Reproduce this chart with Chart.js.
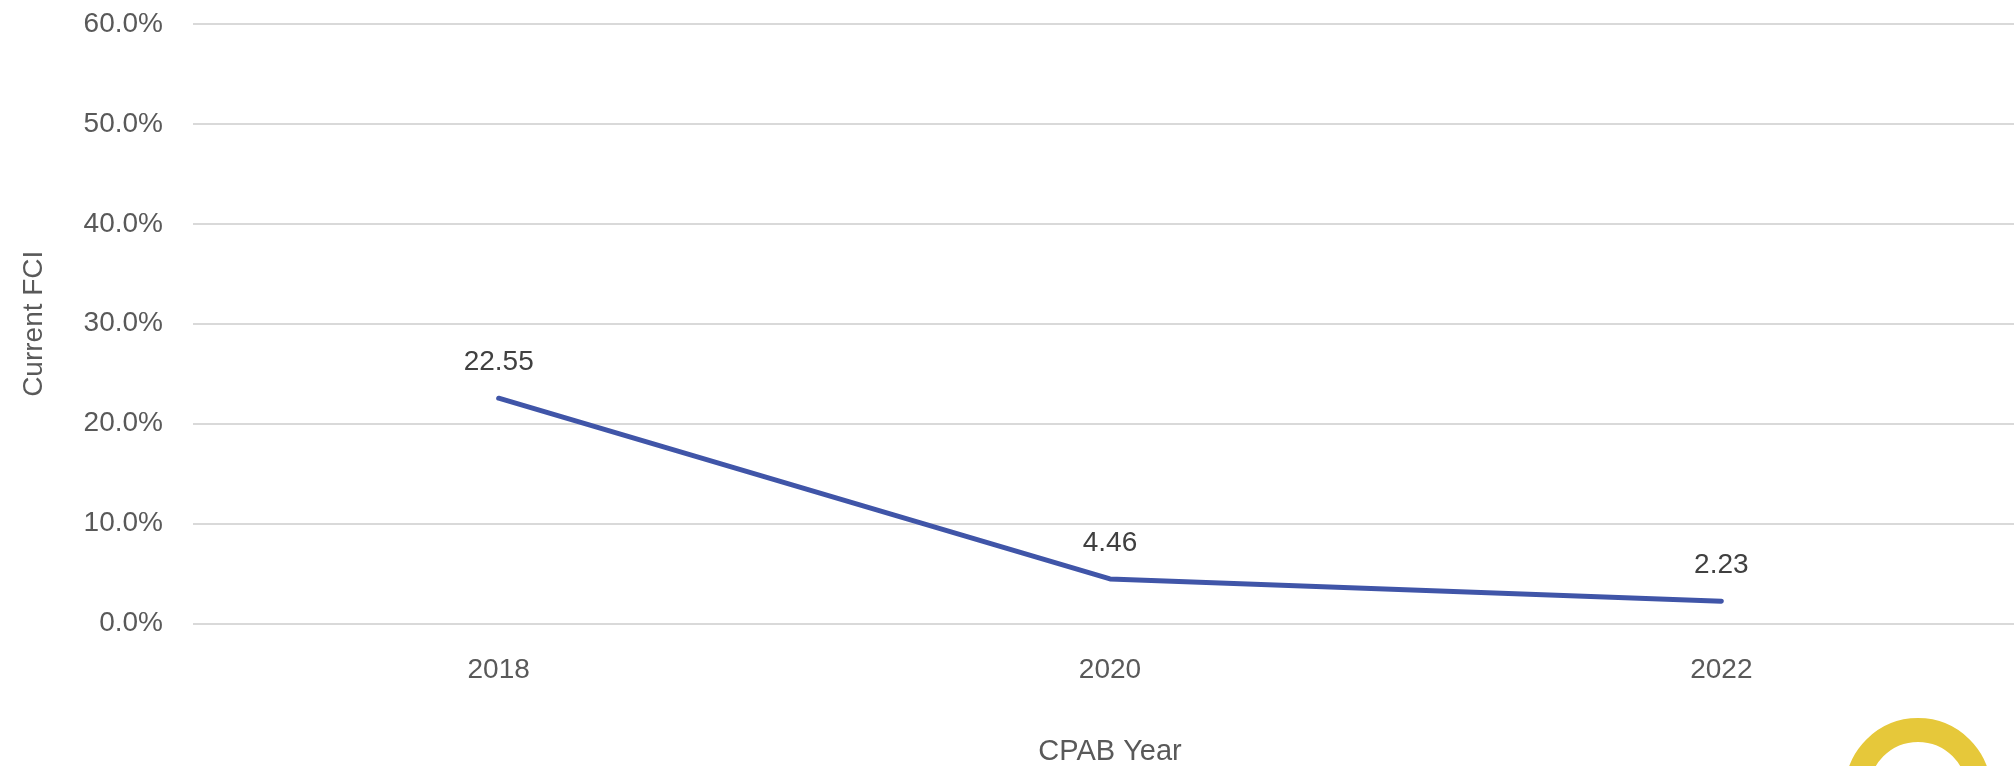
<!DOCTYPE html>
<html lang="en">
<head>
  <meta charset="UTF-8">
  <title>Current FCI by CPAB Year</title>
  <script src="https://cdn.jsdelivr.net/npm/chart.js"></script>
  <style>
    body {
      margin: 0;
      background: #ffffff;
      overflow: hidden;
      width: 2014px;
      height: 766px;
      position: relative;
    }
    #wrap {
      position: absolute;
      left: 0;
      top: 0;
      width: 2027px;
      height: 766px;
    }
    .badge {
      position: absolute;
      left: 1845px;
      top: 718px;
      width: 146px;
      height: 146px;
      box-sizing: border-box;
      border: 24px solid #E6C83A;
      border-radius: 50%;
    }
  </style>
</head>
<body>
  <div id="wrap"><canvas id="fciChart"></canvas></div>
  <div class="badge"></div>

  <script>
    const years = ['2018', '2020', '2022'];
    const fciValues = [22.55, 4.46, 2.23];
    const yTicks = [0, 10, 20, 30, 40, 50, 60];

    const FONT = "'Liberation Sans', Arial, sans-serif";

    // simple value labels above each point
    const pointLabels = {
      id: 'pointLabels',
      afterDatasetsDraw(chart) {
        const ctx = chart.ctx;
        const meta = chart.getDatasetMeta(0);
        ctx.save();
        ctx.font = '28px ' + FONT;
        ctx.fillStyle = '#404040';
        ctx.textAlign = 'center';
        ctx.textBaseline = 'middle';
        meta.data.forEach((pt, i) => {
          ctx.fillText(fciValues[i].toFixed(2), pt.x, pt.y - 36);
        });
        ctx.restore();
      }
    };

    new Chart(document.getElementById('fciChart'), {
      type: 'line',
      data: {
        labels: years,
        datasets: [{
          data: fciValues,
          borderColor: '#4055A8',
          borderWidth: 5,
          borderCapStyle: 'round',
          borderJoinStyle: 'round',
          pointRadius: 0,
          fill: false,
          tension: 0
        }]
      },
      options: {
        responsive: true,
        maintainAspectRatio: false,
        animation: false,
        layout: { padding: { top: 24, left: 0, right: 0, bottom: 0 } },
        plugins: {
          legend: { display: false },
          tooltip: { enabled: false }
        },
        scales: {
          x: {
            offset: true,
            grid: { display: false, drawTicks: false },
            border: { display: false },
            ticks: {
              color: '#595959',
              font: { family: FONT, size: 28 },
              padding: 30
            },
            title: {
              display: true,
              text: 'CPAB Year',
              color: '#595959',
              font: { family: FONT, size: 29, lineHeight: 1 },
              padding: { top: 0, bottom: 0 }
            },
            afterFit(scale) {
              scale.height = 766 - 24 - 599.5;
              scale.paddingLeft = 0;
              scale.paddingRight = 0;
            }
          },
          y: {
            min: 0,
            max: 60,
            afterBuildTicks(scale) { scale.ticks = yTicks.map(v => ({ value: v })); },
            grid: { color: '#d9d9d9', lineWidth: 2, drawTicks: false },
            border: { display: false },
            ticks: {
              color: '#595959',
              font: { family: FONT, size: 28 },
              padding: 30,
              callback: v => v.toFixed(1) + '%'
            },
            title: {
              display: true,
              text: 'Current FCI',
              color: '#595959',
              font: { family: FONT, size: 28, lineHeight: 1.2 },
              padding: { top: 17, bottom: 0 }
            },
            afterFit(scale) {
              scale.width = 193;
              scale.paddingTop = 0;
              scale.paddingBottom = 0;
            }
          }
        }
      },
      plugins: [pointLabels]
    });
  </script>
</body>
</html>
